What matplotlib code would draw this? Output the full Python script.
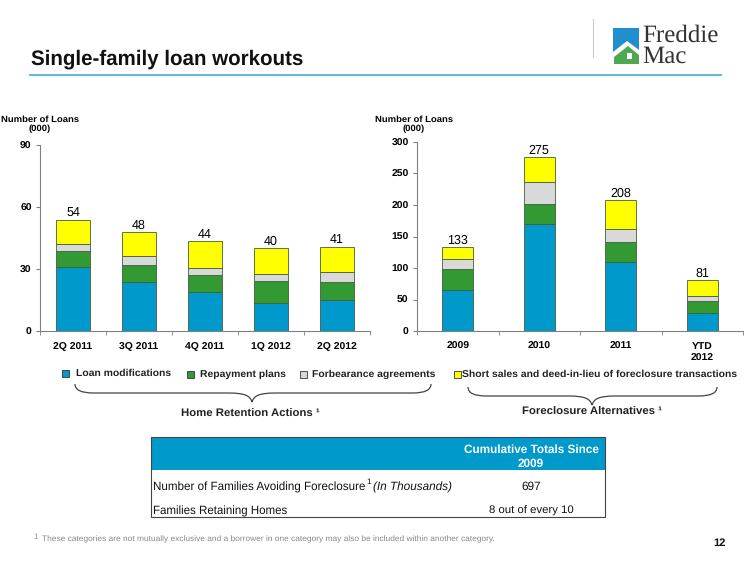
import numpy as np
import matplotlib
matplotlib.use("Agg")
import matplotlib.pyplot as plt
from matplotlib.patches import Rectangle, Polygon, PathPatch
from matplotlib.path import Path

plt.rcParams["font.family"] = ["Liberation Sans", "DejaVu Sans"]
plt.rcParams["text.hinting"] = "no_hinting"

# data, all in thousands of loans
quarters = ["2Q 2011", "3Q 2011", "4Q 2011", "1Q 2012", "2Q 2012"]
q_mods = [30.8, 23.7, 18.7, 13.4, 15.0]
q_repay = [8.1, 8.4, 8.2, 10.6, 8.5]
q_forb = [3.4, 4.4, 3.7, 3.6, 4.9]
q_short = [11.2, 11.5, 12.8, 12.4, 12.4]
q_totals = [54, 48, 44, 40, 41]

years = ["2009", "2010", "2011", "YTD\n2012"]
y_mods = [64.4, 170.6, 109, 28]
y_repay = [33.6, 30.4, 33, 19]
y_forb = [15.6, 35, 20, 9]
y_short = [19, 40, 46, 25]
y_totals = [133, 275, 208, 81]

colors = ["#0099CC", "#339933", "#D9D9D9", "#FFFF00"]
legend_labels = ["Loan modifications", "Repayment plans", "Forbearance agreements",
                 "Short sales and deed-in-lieu of foreclosure transactions"]

W, H = 750, 562
fig = plt.figure(figsize=(W / 100, H / 100), dpi=100)


def px_axes(x0, y0, x1, y1):
    return fig.add_axes([x0 / W, 1 - y1 / H, (x1 - x0) / W, (y1 - y0) / H])


def stacked(ax, labels, series, totals, width, ymax, yticks):
    pos = np.arange(len(labels))
    bottom = np.zeros(len(labels))
    for vals, col in zip(series, colors):
        ax.bar(pos, vals, width, bottom=bottom, color=col, edgecolor="#3F5F3F", linewidth=0.6)
        bottom += np.array(vals)
    for p, top, t in zip(pos, bottom, totals):
        ax.annotate(str(t), (p, top), xytext=(0, 0.5), textcoords="offset points",
                    ha="center", va="bottom", fontsize=9)
    ax.set_xlim(-0.5, len(labels) - 0.5)
    ax.set_ylim(0, ymax)
    ax.set_yticks(yticks)
    ax.set_xticks(pos, labels)
    ax.set_xticks(np.arange(len(labels) + 1) - 0.5, minor=True)
    ax.tick_params(axis="x", which="major", length=0, pad=8, labelsize=7.5)
    ax.tick_params(axis="x", which="minor", length=3, color="#808080", direction="out")
    ax.tick_params(axis="y", length=3, color="#808080", labelsize=7.5, pad=3)
    for lab in ax.get_xticklabels() + ax.get_yticklabels():
        lab.set_fontweight("bold")
    for lab in ax.get_xticklabels():
        lab.set_linespacing(1.35)
    ax.spines["top"].set_visible(False)
    ax.spines["right"].set_visible(False)
    ax.spines["left"].set_color("#808080")
    ax.spines["bottom"].set_color("#808080")


ax1 = px_axes(40, 145, 370, 331)
stacked(ax1, quarters, [q_mods, q_repay, q_forb, q_short], q_totals, 0.53, 90, [0, 30, 60, 90])
ax2 = px_axes(417, 142, 743, 331)
stacked(ax2, years, [y_mods, y_repay, y_forb, y_short], y_totals, 0.38, 300, [0, 50, 100, 150, 200, 250, 300])

# everything else sits on a pixel overlay
ov = fig.add_axes([0, 0, 1, 1], zorder=5)
ov.set_xlim(0, W)
ov.set_ylim(H, 0)
ov.axis("off")
ov.patch.set_alpha(0)

# title + rule
ov.text(31, 59, "Single-family loan workouts", fontsize=14.8, fontweight="bold", color="#111111", va="center")
ov.plot([30, 721], [75, 75], color="#4FB0DC", lw=1.3)

# logo
ov.plot([593, 593], [19, 57], color="#CCCCCC", lw=0.8)
ov.add_patch(Rectangle((613, 28), 26, 36, color="#1F8FD0", lw=0))
ov.add_patch(Polygon([(613, 52), (627, 41), (639, 50), (639, 64), (613, 64)], color="white", lw=0))
ov.add_patch(Polygon([(614, 57), (628, 46), (639, 55), (639, 64), (614, 64)], color="#4FA84F", lw=0))
ov.add_patch(Rectangle((627, 53), 5, 6, color="white", lw=0))
ov.text(642, 36, "Freddie", family="Liberation Serif", fontsize=18, color="#333333", va="center")
ov.text(642, 57, "Mac", family="Liberation Serif", fontsize=18, color="#333333", va="center")

# axis titles
ov.text(40, 124, "Number of Loans\n(000)", fontsize=6.8, fontweight="bold", ha="center", va="center", linespacing=1.2)
ov.text(414, 124, "Number of Loans\n(000)", fontsize=6.8, fontweight="bold", ha="center", va="center", linespacing=1.2)

# legend
marker_x = [62, 187, 300, 454]
text_x = [76, 200, 312, 462]
legend_y = [373, 374, 374, 374]
for mx, tx, ly, col, lab in zip(marker_x, text_x, legend_y, colors, legend_labels):
    ov.add_patch(Rectangle((mx, ly - 3), 7, 7, facecolor=col, edgecolor="#333333", lw=0.6))
    ov.text(tx, ly, lab, fontsize=7.5, fontweight="bold", color="#222222", va="center")


def brace(x0, x1, tip, top, low, peak):
    verts = [(x0, top), (x0, low), (x0 + 18, low), (tip - 24, low),
             (tip - 6, low), (tip - 2, low + 3), (tip, peak),
             (tip + 2, low + 3), (tip + 6, low), (tip + 24, low),
             (x1 - 18, low), (x1, low), (x1, top)]
    codes = [Path.MOVETO, Path.CURVE3, Path.CURVE3, Path.LINETO,
             Path.CURVE4, Path.CURVE4, Path.CURVE4,
             Path.CURVE4, Path.CURVE4, Path.CURVE4,
             Path.LINETO, Path.CURVE3, Path.CURVE3]
    ov.add_patch(PathPatch(Path(verts, codes), fill=False, edgecolor="#444444", lw=0.9))


brace(75, 431, 252, 384, 393, 402)
brace(468, 717, 592, 387, 396, 405)
ov.text(250, 414, "Home Retention Actions ¹", fontsize=8.2, fontweight="bold", ha="center", va="center", color="#222222")
ov.text(592, 412, "Foreclosure Alternatives ¹", fontsize=8.2, fontweight="bold", ha="center", va="center", color="#222222")

# table
ov.add_patch(Rectangle((151, 437), 454, 33, color="#0099CC", lw=0))
ov.add_patch(Rectangle((151, 437), 454, 80, fill=False, edgecolor="#444444", lw=0.8))
ov.text(531, 456.5, "Cumulative Totals Since\n2009", fontsize=8.5, fontweight="bold", color="white",
        ha="center", va="center", linespacing=1.3)
ov.text(153, 487, "Number of Families Avoiding Foreclosure", fontsize=8.4, color="#111111", va="center")
ov.text(366, 482, "1", fontsize=6, color="#111111", va="center")
ov.text(373, 487, "(In Thousands)", fontsize=8.5, style="italic", color="#111111", va="center")
ov.text(531, 487, "697", fontsize=8.5, color="#111111", ha="center", va="center")
ov.text(153, 511, "Families Retaining Homes", fontsize=8.3, color="#111111", va="center")
ov.text(531, 511, "8 out of every 10", fontsize=8.2, color="#111111", ha="center", va="center")

# footnote + page number
ov.text(33, 537, "1", fontsize=5.5, color="#888888", va="center")
ov.text(42, 539, "These categories are not mutually exclusive and a borrower in one category may also be included within another category.",
        fontsize=6, color="#888888", va="center")
ov.text(713, 543, "12", fontsize=8, fontweight="bold", color="#111111", va="center")

fig.savefig("out.png", dpi=100)
